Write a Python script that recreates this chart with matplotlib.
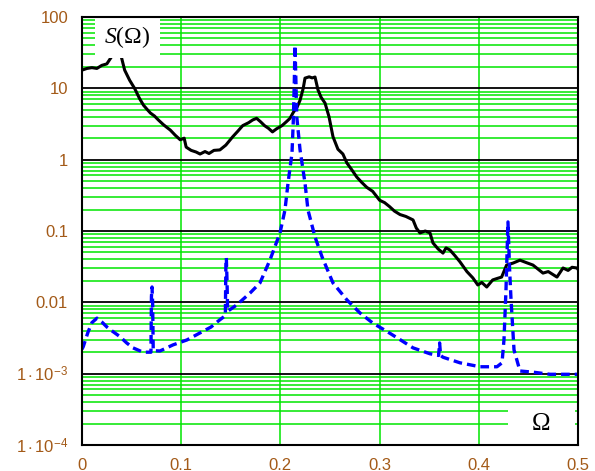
import matplotlib
matplotlib.use('Agg')
import matplotlib.pyplot as plt
from matplotlib.patches import Rectangle
from matplotlib.ticker import LogLocator, NullFormatter, FixedLocator
import numpy as np

plt.rcParams['mathtext.fontset'] = 'custom'
plt.rcParams['mathtext.rm'] = 'Liberation Sans'
plt.rcParams['mathtext.it'] = 'Liberation Serif:italic'

# solid black curve S(Omega)
omega_solid = [0.000, 0.005, 0.010, 0.015, 0.020, 0.025, 0.030, 0.033, 0.036, 0.039,
               0.043, 0.048, 0.053, 0.058, 0.062, 0.066, 0.069, 0.073, 0.077, 0.082,
               0.086, 0.089, 0.094, 0.099, 0.103, 0.105, 0.110, 0.115, 0.119, 0.124,
               0.128, 0.133, 0.139, 0.145, 0.152, 0.157, 0.162, 0.168, 0.172, 0.176,
               0.180, 0.184, 0.188, 0.192, 0.196, 0.2016, 0.206, 0.2097, 0.213, 0.2167,
               0.2198, 0.223, 0.2248, 0.229, 0.232, 0.2349, 0.2379, 0.241, 0.245, 0.249,
               0.253, 0.258, 0.263, 0.267, 0.272, 0.277, 0.282, 0.287, 0.293, 0.300,
               0.305, 0.310, 0.315, 0.3206, 0.3265, 0.3337, 0.337, 0.3407, 0.346, 0.3508,
               0.3538, 0.359, 0.3639, 0.367, 0.371, 0.376, 0.381, 0.388, 0.394, 0.399,
               0.403, 0.408, 0.414, 0.418, 0.423, 0.428, 0.4345, 0.4415, 0.448, 0.4546,
               0.460, 0.4647, 0.470, 0.4788, 0.4849, 0.490, 0.494, 0.499, 0.500]
s_solid = [18, 19, 19.5, 19, 21, 22, 28, 33, 38, 30,
           18, 13, 10, 7.2, 5.8, 5.0, 4.5, 4.1, 3.6, 3.1,
           2.8, 2.6, 2.2, 1.9, 2.0, 1.5, 1.35, 1.28, 1.2, 1.3,
           1.22, 1.35, 1.37, 1.6, 2.1, 2.5, 3.0, 3.3, 3.6, 3.8,
           3.4, 3.0, 2.75, 2.45, 2.7, 3.0, 3.4, 3.8, 4.6, 5.4,
           6.8, 10, 13.9, 14.5, 14.0, 14.4, 9.5, 7.5, 6.2, 4.0,
           2.1, 1.4, 1.2, 0.9, 0.72, 0.57, 0.48, 0.41, 0.36, 0.27,
           0.25, 0.22, 0.19, 0.17, 0.16, 0.143, 0.11, 0.094, 0.1, 0.094,
           0.068, 0.056, 0.049, 0.058, 0.054, 0.045, 0.037, 0.027, 0.022, 0.0175,
           0.019, 0.0164, 0.0206, 0.0215, 0.0226, 0.0333, 0.0355, 0.039, 0.036, 0.0333,
           0.029, 0.0257, 0.027, 0.0226, 0.0303, 0.028, 0.031, 0.0303, 0.029]

# dashed blue curve
omega_dash = [0.000, 0.0013, 0.006, 0.010, 0.0151, 0.020, 0.0252, 0.030, 0.0383, 0.045,
              0.0514, 0.0615, 0.0695, 0.0700, 0.0706, 0.0712, 0.0718, 0.0786, 0.0917, 0.1058,
              0.119, 0.130, 0.139, 0.1445, 0.1450, 0.1455, 0.1462, 0.1468, 0.156, 0.1694,
              0.1794, 0.1895, 0.1996, 0.2046, 0.2077, 0.2117, 0.2130, 0.2140, 0.2147, 0.2155,
              0.2165, 0.2198, 0.2248, 0.2278, 0.2349, 0.242, 0.253, 0.2671, 0.2802, 0.2933,
              0.3075, 0.3206, 0.3337, 0.3508, 0.3595, 0.3605, 0.3615, 0.3639, 0.381, 0.4012,
              0.4183, 0.4234, 0.4254, 0.4274, 0.4294, 0.4310, 0.4325, 0.4355, 0.4415, 0.4546,
              0.4718, 0.500]
s_dash = [0.0022, 0.0024, 0.0038, 0.0052, 0.0060, 0.0053, 0.0045, 0.0040, 0.0033, 0.0027,
          0.0023, 0.0020, 0.0020, 0.0120, 0.0164, 0.0100, 0.0021, 0.00208, 0.00253, 0.00297,
          0.00373, 0.0045, 0.0057, 0.0065, 0.030, 0.0419, 0.020, 0.0075, 0.0092, 0.0135,
          0.0187, 0.0393, 0.094, 0.197, 0.47, 1.24, 3.5, 12, 40, 15,
          4, 1.37, 0.47, 0.197, 0.0825, 0.0433, 0.0187, 0.0108, 0.0071, 0.0051,
          0.0039, 0.0030, 0.0023, 0.0019, 0.0018, 0.0027, 0.0018, 0.0017, 0.00142, 0.00125,
          0.00125, 0.00142, 0.0030, 0.0149, 0.134, 0.03, 0.0108, 0.00215, 0.00109, 0.00105,
          0.00098, 0.00098]

x_ticks = [0, 0.1, 0.2, 0.3, 0.4, 0.5]
x_labels = ['0', '0.1', '0.2', '0.3', '0.4', '0.5']
y_ticks = [1e-4, 1e-3, 0.01, 0.1, 1, 10, 100]
y_labels = [r'$1\cdot10^{-4}$', r'$1\cdot10^{-3}$', '0.01', '0.1', '1', '10', '100']

green = '#00e600'
label_color = '#a35a18'

fig = plt.figure(figsize=(5.95, 4.71), dpi=100)
ax = fig.add_axes([82 / 595, 1 - 445 / 471, 496 / 595, 428 / 471])

ax.plot(omega_solid, s_solid, color='black', lw=2.2, zorder=3)
ax.plot(omega_dash, s_dash, color='#0000ff', lw=2.4, linestyle=(0, (2.6, 1.5)), zorder=3)

ax.set_yscale('log')
ax.set_xlim(0, 0.5)
ax.set_ylim(1e-4, 100)

ax.set_xticks(x_ticks)
ax.set_xticklabels(x_labels)
ax.yaxis.set_major_locator(FixedLocator(y_ticks))
ax.set_yticklabels(y_labels)
ax.yaxis.set_minor_locator(LogLocator(base=10, subs=np.arange(2, 10)))
ax.yaxis.set_minor_formatter(NullFormatter())

ax.grid(which='minor', axis='y', color=green, lw=1.1)
ax.grid(which='major', axis='y', color='black', lw=1.3)
ax.grid(which='major', axis='x', color=green, lw=1.1)
ax.set_axisbelow(True)

ax.tick_params(which='both', length=0, labelsize=12, labelcolor=label_color)
ax.tick_params(axis='x', pad=9)
ax.tick_params(axis='y', pad=10)
for lab in ax.get_xticklabels() + ax.get_yticklabels():
    lab.set_family('Liberation Sans')

for sp in ax.spines.values():
    sp.set_linewidth(1.5)
    sp.set_zorder(6)

# label boxes with white background
ax.add_patch(Rectangle((0.026, 0.904), 0.131, 0.096, transform=ax.transAxes,
                       facecolor='white', edgecolor='none', zorder=4))
ax.text(0.091, 0.953, r'$S$(Ω)', transform=ax.transAxes, ha='center', va='center',
        fontsize=17, family='Liberation Serif', zorder=5)
ax.add_patch(Rectangle((0.859, 0.0), 0.135, 0.093, transform=ax.transAxes,
                       facecolor='white', edgecolor='none', zorder=4))
ax.text(0.925, 0.05, 'Ω', transform=ax.transAxes, ha='center', va='center',
        fontsize=18, family='Liberation Serif', zorder=5)

fig.savefig('out.png', dpi=100)
